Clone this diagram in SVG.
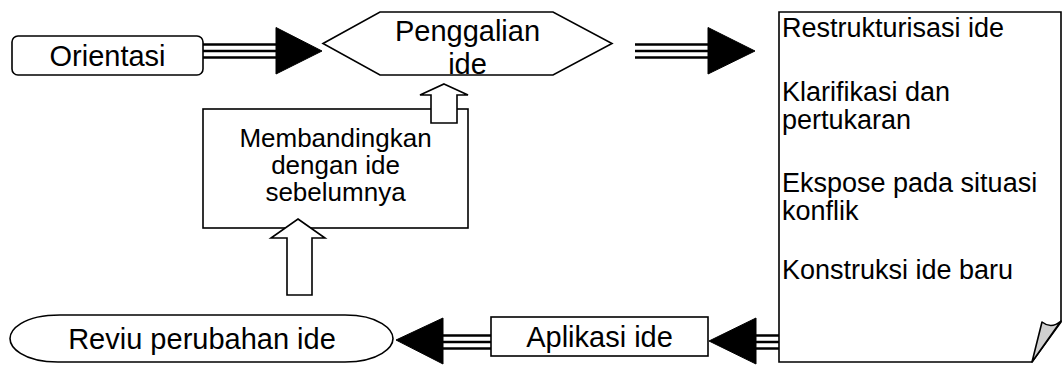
<svg xmlns="http://www.w3.org/2000/svg" width="1062" height="365" viewBox="0 0 1062 365">
<defs>
<style>
.shape{fill:#fff;stroke:#000;stroke-width:1.6}
.lbl{font-family:"Liberation Sans",Arial,sans-serif;font-size:29px;fill:#000;text-anchor:middle}
.lbl2{font-family:"Liberation Sans",Arial,sans-serif;font-size:26px;fill:#000;text-anchor:middle}
.doc{font-family:"Liberation Sans",Arial,sans-serif;font-size:27px;fill:#000}
.tl{stroke:#000;stroke-width:2.6;fill:none}
.head{fill:#000;stroke:#000;stroke-width:1}
.blk{fill:#fff;stroke:#000;stroke-width:1.6;stroke-linejoin:miter}
</style>
</defs>
<rect width="1062" height="365" fill="#fff"/>
<g id="connectors">
  <g id="arrow-orientasi-penggalian">
    <path class="tl" d="M203,44.5H278M203,51H278M203,57.5H278"/>
    <polygon class="head" points="276,27.5 322,51 276,74"/>
  </g>
  <g id="arrow-penggalian-doc">
    <path class="tl" d="M635,44.5H710M635,51H710M635,57.5H710"/>
    <polygon class="head" points="708,27.5 755,51 708,74"/>
  </g>
  <g id="arrow-doc-aplikasi">
    <path class="tl" d="M779,335.5H753M779,342H753M779,348.5H753"/>
    <polygon class="head" points="756,318 709,341 756,364"/>
  </g>
  <g id="arrow-aplikasi-reviu">
    <path class="tl" d="M491,335.5H441M491,342H441M491,348.5H441"/>
    <polygon class="head" points="443,318 396,340 443,364"/>
  </g>
</g>
<g id="orientasi">
  <rect class="shape" x="12" y="36" width="191" height="39" rx="6"/>
  <text class="lbl" x="107.5" y="66">Orientasi</text>
</g>
<g id="penggalian">
  <polygon class="shape" points="323,43.5 380,12 553,12 612,43.5 553,75 380,75"/>
  <text class="lbl" x="467.5" y="41">Penggalian</text>
  <text class="lbl" x="467.5" y="74">ide</text>
</g>
<g id="membandingkan">
  <rect class="shape" x="203" y="109" width="265" height="119"/>
  <text class="lbl2" x="335.5" y="147">Membandingkan</text>
  <text class="lbl2" x="335.5" y="174">dengan ide</text>
  <text class="lbl2" x="335.5" y="201">sebelumnya</text>
</g>
<g id="up-arrow-1">
  <polygon class="blk" points="444,84 468,95 457,95 457,123 431,123 431,95 420,95"/>
</g>
<g id="up-arrow-2">
  <polygon class="blk" points="298,219 325,238 312,238 312,295 287,295 287,238 271,238"/>
</g>
<g id="dokumen">
  <path class="shape" d="M779,12H1061V322L1032,362H779Z"/>
  <path d="M1032,362L1042,322C1047,326 1053,328 1061,321Z" fill="#d0d0d0" stroke="#000" stroke-width="1.6" stroke-linejoin="round"/>
  <text class="doc" x="782" y="37">Restrukturisasi ide</text>
  <text class="doc" x="782" y="101">Klarifikasi dan</text>
  <text class="doc" x="782" y="129">pertukaran</text>
  <text class="doc" x="782" y="192">Ekspose pada situasi</text>
  <text class="doc" x="782" y="220">konflik</text>
  <text class="doc" x="782" y="279">Konstruksi ide baru</text>
</g>
<g id="aplikasi">
  <rect class="shape" x="491" y="317" width="217" height="39"/>
  <text class="lbl" x="599.5" y="347">Aplikasi ide</text>
</g>
<g id="reviu">
  <path class="shape" d="M60,315H345C380,315 393,330 393,338.5C393,347 380,362 345,362H58C22,362 10,347 10,338.5C10,330 22,315 60,315Z"/>
  <text class="lbl" x="202" y="349">Reviu perubahan ide</text>
</g>
</svg>
